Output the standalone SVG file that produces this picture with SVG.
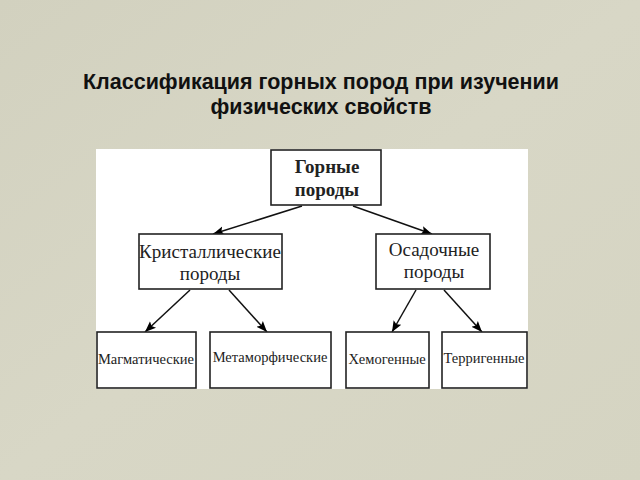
<svg xmlns="http://www.w3.org/2000/svg" width="640" height="480" viewBox="0 0 640 480">
<defs>
<linearGradient id="bg" x1="0" y1="0" x2="1" y2="1">
<stop offset="0" stop-color="#d2d1bf"/>
<stop offset="0.5" stop-color="#d8d7c6"/>
<stop offset="1" stop-color="#d5d4c2"/>
</linearGradient>
<marker id="ah" viewBox="0 0 10 10" refX="10" refY="5" markerWidth="11" markerHeight="11" markerUnits="userSpaceOnUse" orient="auto">
<path d="M0,1 L10,5 L0,9 L2,5 Z" fill="#000"/>
</marker>
<style>
.box{fill:#fff;stroke:#222;stroke-width:1.6}
.t{font-family:"Liberation Serif","Times New Roman",serif;fill:#222;text-anchor:middle}
.m{font-size:19px}
.s{font-size:14.5px}
.c{stroke:#111;stroke-width:1.5;fill:none;marker-end:url(#ah)}
.title{font-family:"Liberation Sans",Arial,sans-serif;font-weight:bold;font-size:21.5px;fill:#111;text-anchor:middle}
</style>
</defs>
<rect width="640" height="480" fill="url(#bg)"/>
<text class="title" x="321" y="89">Классификация горных пород при изучении</text>
<text class="title" x="321" y="114">физических свойств</text>
<rect x="96" y="149" width="432" height="240" fill="#fff"/>
<g id="connectors">
<line class="c" x1="302" y1="206" x2="213" y2="234"/>
<line class="c" x1="353" y1="206" x2="432" y2="234"/>
<line class="c" x1="190" y1="290" x2="145" y2="332"/>
<line class="c" x1="229" y1="290" x2="267" y2="332"/>
<line class="c" x1="416" y1="290" x2="392" y2="332"/>
<line class="c" x1="444" y1="290" x2="482" y2="332"/>
</g>
<g id="root">
<rect class="box" x="271" y="150" width="110" height="55"/>
<text class="t m" x="327" y="173" font-weight="bold">Горные</text>
<text class="t m" x="327" y="196" font-weight="bold">породы</text>
</g>
<g id="crystal">
<rect class="box" x="139" y="234" width="143" height="55"/>
<text class="t m" x="210" y="258">Кристаллические</text>
<text class="t m" x="210" y="280">породы</text>
</g>
<g id="sediment">
<rect class="box" x="376" y="234" width="114" height="55"/>
<text class="t m" x="434" y="256">Осадочные</text>
<text class="t m" x="434" y="278">породы</text>
</g>
<g id="magm">
<rect class="box" x="97" y="332" width="99" height="56"/>
<text class="t s" x="146" y="364">Магматические</text>
</g>
<g id="metam">
<rect class="box" x="210" y="332" width="121" height="56"/>
<text class="t s" x="270" y="362">Метаморфические</text>
</g>
<g id="chem">
<rect class="box" x="346" y="332" width="83" height="56"/>
<text class="t s" x="387" y="364">Хемогенные</text>
</g>
<g id="terr">
<rect class="box" x="442" y="332" width="85" height="56"/>
<text class="t s" x="484" y="363">Терригенные</text>
</g>
</svg>
